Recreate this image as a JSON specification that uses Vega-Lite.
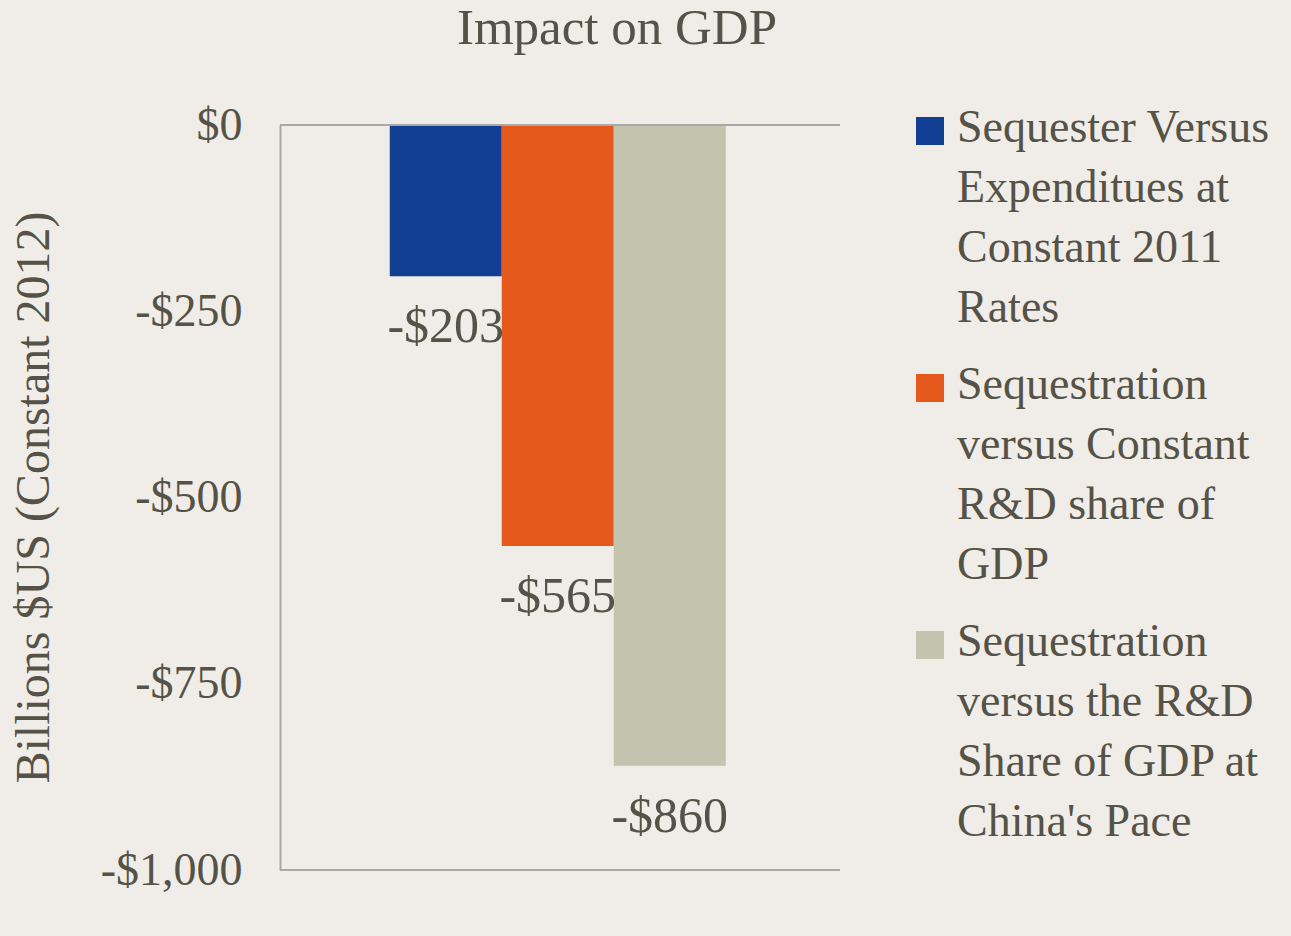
{
  "$schema": "https://vega.github.io/schema/vega-lite/v6.json",
  "autosize": {"type": "none"},
  "width": 560,
  "height": 745,
  "padding": {"left": 280, "top": 125, "right": 451, "bottom": 66},
  "background": "#f0ede8",
  "config": {
    "font": "Liberation Serif",
    "view": {"stroke": null},
    "text": {"font": "Liberation Serif"}
  },
  "title": {
    "text": "Impact on GDP",
    "fontSize": 51,
    "fontWeight": "normal",
    "color": "#555247",
    "font": "Liberation Serif",
    "anchor": "middle",
    "dx": 57,
    "offset": 47
  },
  "data": {
    "values": [
      {"scenario": "Sequester Versus Expenditues at Constant 2011 Rates", "value": -203},
      {"scenario": "Sequestration versus Constant R&D share of GDP", "value": -565},
      {"scenario": "Sequestration versus the R&D Share of GDP at China's Pace", "value": -860}
    ]
  },
  "layer": [
    {
      "mark": {"type": "bar"},
      "encoding": {
        "x": {
          "field": "scenario",
          "type": "nominal",
          "sort": null,
          "scale": {"paddingInner": 0, "paddingOuter": 1.09, "align": 0.49, "round": false},
          "axis": null
        },
        "y": {
          "field": "value",
          "type": "quantitative",
          "scale": {"domain": [-1000, 0], "nice": false},
          "axis": {
            "values": [0, -250, -500, -750, -1000],
            "labelExpr": "datum.value < 0 ? '-$' + format(-datum.value, ',') : '$0'",
            "labelFontSize": 46,
            "labelColor": "#555247",
            "labelFont": "Liberation Serif",
            "labelPadding": 38,
            "ticks": false,
            "grid": false,
            "domain": true,
            "domainColor": "#a8a8a8",
            "domainWidth": 2,
            "title": "Billions $US (Constant 2012)",
            "titleFontSize": 48,
            "titleFontWeight": "normal",
            "titleColor": "#555247",
            "titleFont": "Liberation Serif",
            "titleX": -222,
            "titleY": 372
          }
        },
        "color": {
          "field": "scenario",
          "type": "nominal",
          "sort": null,
          "scale": {"range": ["#123f94", "#e5591c", "#c4c3ae"]},
          "legend": {
            "title": null,
            "orient": "none",
            "legendX": 627,
            "legendY": -17,
            "symbolType": "square",
            "symbolSize": 784,
            "symbolStrokeWidth": 0,
            "labelFontSize": 46,
            "labelColor": "#555247",
            "labelFont": "Liberation Serif",
            "labelLimit": 400,
            "labelOffset": 4,
            "labelBaseline": "top",
            "rowPadding": 31,
            "labelExpr": "datum.label == 'Sequester Versus Expenditues at Constant 2011 Rates' ? ['Sequester Versus', 'Expenditues at', 'Constant 2011', 'Rates'] : datum.label == 'Sequestration versus Constant R&D share of GDP' ? ['Sequestration', 'versus Constant', 'R&D share of', 'GDP'] : ['Sequestration', 'versus the R&D', 'Share of GDP at', \"China's Pace\"]",
            "encode": {
              "labels": {"update": {"lineHeight": {"value": 60}, "dy": {"value": -25}}}
            }
          }
        }
      }
    },
    {
      "mark": {"type": "rule", "color": "#a8a8a8", "strokeWidth": 2},
      "data": {"values": [{"v": 0}, {"v": -1000}]},
      "encoding": {
        "y": {"field": "v", "type": "quantitative"}
      }
    },
    {
      "transform": [{"calculate": "'-$' + format(-datum.value, ',')", "as": "label"}],
      "mark": {"type": "text", "baseline": "top", "dy": 26, "fontSize": 50, "color": "#555247", "font": "Liberation Serif"},
      "encoding": {
        "x": {"field": "scenario", "type": "nominal", "sort": null},
        "y": {"field": "value", "type": "quantitative"},
        "text": {"field": "label"}
      }
    }
  ]
}
